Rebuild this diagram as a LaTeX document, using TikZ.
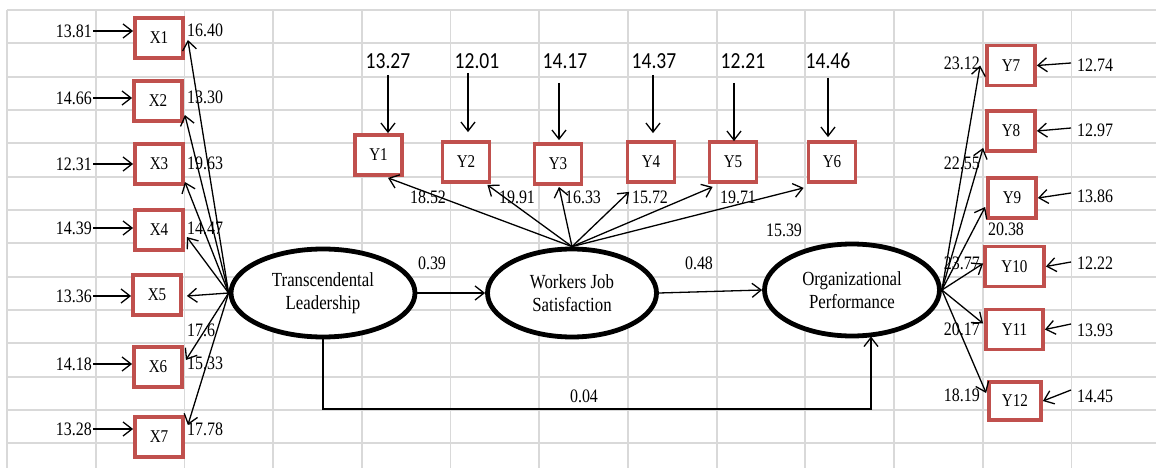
\documentclass[tikz,border=0pt]{standalone}
\usepackage{fontspec}
\setmainfont{Liberation Serif}[FakeStretch=0.84]
\newfontfamily\calfont{Carlito}[FakeStretch=0.85]
\usetikzlibrary{shapes.geometric,arrows.meta,calc}
\definecolor{boxred}{RGB}{192,80,77}
\definecolor{gridgray}{RGB}{217,217,217}
\newcommand\numfont{\fontsize{19}{20}\selectfont}
\newcommand\boxfont{\fontsize{18}{19}\selectfont}
\newcommand\ellfont{\fontsize{20}{23.5}\selectfont}
\newcommand\topfont{\calfont\fontsize{23}{24}\selectfont}
\tikzset{
  gridl/.style={draw=gridgray,line width=1.8pt},
  obsbox/.style={draw=boxred,line width=3.8pt,fill=white,minimum width=48pt,minimum height=40pt,inner sep=0pt,font=\boxfont},
  latent/.style={ellipse,draw=black,line width=4.8pt,fill=white,align=center,font=\ellfont,inner sep=0pt},
  num/.style={font=\numfont,inner sep=1pt},
  topnum/.style={font=\topfont,inner sep=1pt},
  arr/.style={-{Straight Barb[length=9pt,width=14pt]},line width=1.3pt,black},
  plain/.style={line width=1.3pt,black}
}
\begin{document}
\begin{tikzpicture}[x=1pt,y=-1pt]
\useasboundingbox (0,0) rectangle (1156,468);
\fill[white] (0,0) rectangle (1156,468);
% grid
\foreach \i in {0,...,12} \draw[gridl] (7+88.7*\i,10) -- (7+88.7*\i,468);
\foreach \j in {0,...,13} \draw[gridl] (7,10+33.33*\j) -- (1156,10+33.33*\j);

% latent variables
\node[latent,minimum width=184pt,minimum height=88pt] (tl) at (323,293) {Transcendental\\Leadership};
\node[latent,minimum width=169pt,minimum height=88pt] (wjs) at (572,293) {Workers Job\\Satisfaction};
\node[latent,minimum width=175pt,minimum height=92pt] (op) at (852,290) {Organizational\\Performance};

% X boxes
\node[obsbox] (x1) at (159,38) {X1};
\node[obsbox] (x2) at (158,101) {X2};
\node[obsbox] (x3) at (159,164) {X3};
\node[obsbox] (x4) at (159,230) {X4};
\node[obsbox] (x5) at (157,295) {X5};
\node[obsbox] (x6) at (158,367) {X6};
\node[obsbox] (x7) at (159,437) {X7};

% X errors
\node[num,anchor=east] (e1) at (93,31) {13.81};
\node[num,anchor=east] (e2) at (93,98) {14.66};
\node[num,anchor=east] (e3) at (93,164) {12.31};
\node[num,anchor=east] (e4) at (93,228) {14.39};
\node[num,anchor=east] (e5) at (93,296) {13.36};
\node[num,anchor=east] (e6) at (93,364) {14.18};
\node[num,anchor=east] (e7) at (93,429) {13.28};
\foreach \k in {1,...,7} \draw[arr] (e\k.east) -- (e\k.east -| x\k.west);

% X loadings
\node[num,anchor=west] (l1) at (186,30) {16.40};
\node[num,anchor=west] (l2) at (186,97) {13.30};
\node[num,anchor=west] (l3) at (186,163) {19.63};
\node[num,anchor=west] (l4) at (186,228) {14.47};
\node[num,anchor=west] (l5) at (186,330) {17.6};
\node[num,anchor=west] (l6) at (186,363) {15.33};
\node[num,anchor=west] (l7) at (186,429) {17.78};
\draw[arr] (tl.west) -- ($(x1.east)+(3,2)$);
\draw[arr] (tl.west) -- ($(x2.east)+(1,14)$);
\draw[arr] (tl.west) -- ($(x3.east)+(0,18)$);
\draw[arr] (tl.west) -- ($(x4.east)+(2,7)$);
\draw[arr] (tl.west) -- ($(x5.east)+(4,1)$);
\draw[arr] (tl.west) -- ($(x6.east)+(2,-7)$);
\draw[arr] (tl.west) -- ($(x7.east)+(3,-12)$);

% Y1-Y6 boxes
\node[obsbox,minimum width=47pt] (y1) at (378.5,155) {Y1};
\node[obsbox,minimum width=47pt] (y2) at (466,162) {Y2};
\node[obsbox,minimum width=47pt] (y3) at (558,164) {Y3};
\node[obsbox,minimum width=47pt] (y4) at (651,162) {Y4};
\node[obsbox,minimum width=47pt] (y5) at (733,162) {Y5};
\node[obsbox,minimum width=47pt] (y6) at (832,162) {Y6};

% top errors
\node[topnum] (t1) at (388,61) {13.27};
\node[topnum] (t2) at (477,61) {12.01};
\node[topnum] (t3) at (565,61) {14.17};
\node[topnum] (t4) at (654,61) {14.37};
\node[topnum] (t5) at (743,61) {12.21};
\node[topnum] (t6) at (828,61) {14.46};
\coordinate (s1) at (388,75);
\coordinate (s2) at (468,73);
\coordinate (s3) at (559,83);
\coordinate (s4) at (653,75);
\coordinate (s5) at (734,83);
\coordinate (s6) at (828,78);
\draw[arr] (s1) -- ($(y1.north)+(9.5,0)$);
\draw[arr] (s2) -- ($(y2.north)+(2,-8)$);
\draw[arr] (s3) -- ($(y3.north)+(1,-2)$);
\draw[arr] (s4) -- ($(y4.north)+(2,-7)$);
\draw[arr] (s5) -- ($(y5.north)+(1,1)$);
\draw[arr] (s6) -- ($(y6.north)+(-4,-3)$);

% WJS loadings
\draw[arr] (wjs.north) -- ($(y1.south)+(9.5,1)$);
\draw[arr] (wjs.north) -- ($(y2.south east)+(-4,1)$);
\draw[arr] (wjs.north) -- ($(y3.south)+(1,1)$);
\draw[arr] (wjs.north) -- ($(y4.south west)+(3.5,8)$);
\draw[arr] (wjs.north) -- ($(y5.south west)+(5,3)$);
\draw[arr] (wjs.north) -- ($(y6.south west)+(-3,4)$);
\node[num] (m1) at (428,197) {18.52};
\node[num] (m2) at (517,197) {19.91};
\node[num] (m3) at (583,197) {16.33};
\node[num] (m4) at (650,197) {15.72};
\node[num] (m5) at (738,197) {19.71};
\node[num] (m6) at (784,230) {15.39};

% structural paths
\draw[arr] (tl.east) -- (tl.east -| wjs.west);
\draw[arr] (wjs.east) -- (op.west);
\coordinate (opin) at (871,336.5);
\coordinate (bot) at (600,409);
\draw[plain] (tl.south) |- (bot);
\draw[arr] (bot) -| (opin);
\node[num] (p1) at (432,263) {0.39};
\node[num] (p2) at (699,263) {0.48};
\node[num] (p3) at (584,396) {0.04};

% Y7-Y12 boxes
\node[obsbox] (y7) at (1011,65.5) {Y7};
\node[obsbox] (y8) at (1011,131) {Y8};
\node[obsbox] (y9) at (1012,198) {Y9};
\node[obsbox,minimum width=59pt] (y10) at (1014.5,266.5) {Y10};
\node[obsbox,minimum width=57pt] (y11) at (1014.5,329.5) {Y11};
\node[obsbox,minimum width=52pt,minimum height=38pt] (y12) at (1015,401) {Y12};

% OP loadings
\draw[arr] (op.east) -- ($(y7.west)+(-5,0)$);
\draw[arr] (op.east) -- ($(y8.south west)+(-2,-5)$);
\draw[arr] (op.east) -- ($(y9.west)+(-1,9)$);
\draw[arr] (op.east) -- ($(y10.west)+(0,-3)$);
\draw[arr] (op.east) -- ($(y11.west)+(-1,-6)$);
\draw[arr] (op.east) -- ($(y12.west)+(-1,-8)$);
\node[num,anchor=east] (n7) at (981,63) {23.12};
\node[num,anchor=east] (n8) at (981,163) {22.55};
\node[num] (n9) at (1006,229) {20.38};
\node[num,anchor=east] (n10) at (981,263) {23.77};
\node[num,anchor=east] (n11) at (981,329) {20.17};
\node[num,anchor=east] (n12) at (981,395) {18.19};

% right errors
\node[num,anchor=west,inner sep=6pt] (r7) at (1071,65) {12.74};
\node[num,anchor=west,inner sep=6pt] (r8) at (1071,130) {12.97};
\node[num,anchor=west,inner sep=6pt] (r9) at (1071,196) {13.86};
\node[num,anchor=west,inner sep=6pt] (r10) at (1071,263) {12.22};
\node[num,anchor=west,inner sep=6pt] (r11) at (1071,330) {13.93};
\node[num,anchor=west,inner sep=6pt] (r12) at (1071,396) {14.45};
\draw[arr] ($(r7.west)+(0,-2)$) -- (y7.east);
\draw[arr] ($(r8.west)+(0,-2)$) -- (y8.east);
\draw[arr] ($(r9.west)+(0,-3)$) -- (y9.east);
\draw[arr] ($(r10.west)+(0,-1)$) -- (y10.east);
\draw[arr] ($(r11.west)+(0,-6)$) -- (y11.east);
\draw[arr] ($(r12.west)+(0,-6)$) -- (y12.east);
\end{tikzpicture}
\end{document}
